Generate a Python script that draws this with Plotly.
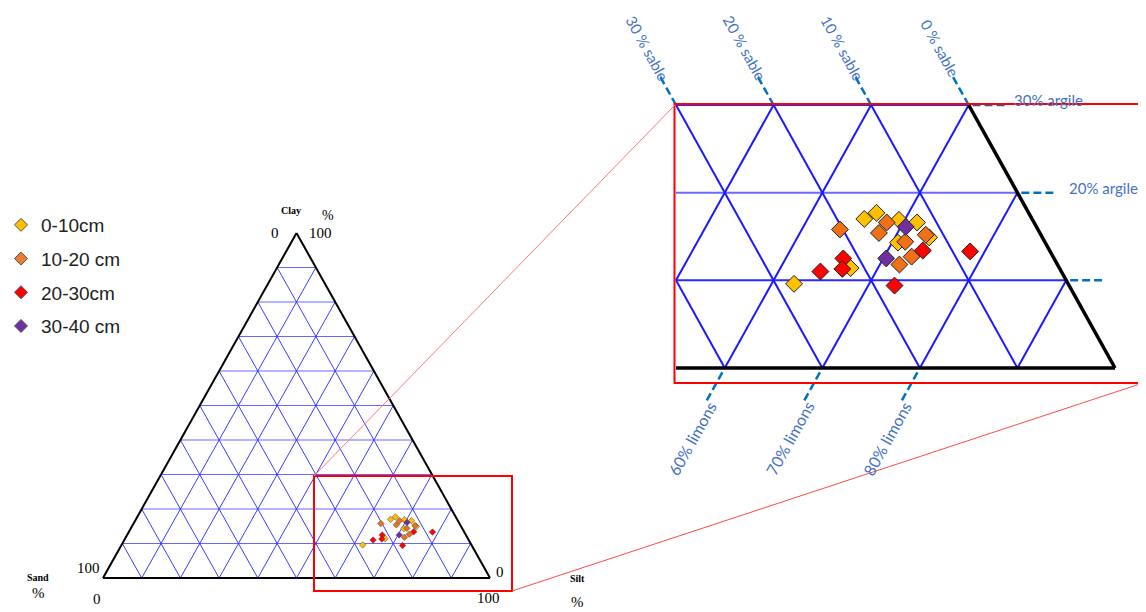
import plotly.graph_objects as go

W, H = 1146, 612          # browser window
OFF = 8                   # default page body margin
WF, HF = W - OFF, H - OFF # figure size so it fits the window

# ---------------- data (sand, silt, clay in %) ----------------
depth_labels = ["0-10cm", "10-20 cm", "20-30cm", "30-40 cm"]
point_colors = ["#FFC000", "#F07018", "#FF0000", "#7030A0"]
legend_colors = ["#FFC000", "#ED7D31", "#FF0000", "#7030A0"]

sand_0_10 = [17.2, 15.6, 13.7, 12.0, 15.1, 11.6, 21.4, 28.1]
silt_0_10 = [65.8, 66.7, 69.4, 71.4, 70.6, 73.5, 67.2, 62.3]
clay_0_10 = [17.0, 17.7, 16.9, 16.6, 14.3, 14.9, 11.4, 9.6]

sand_10_20 = [20.3, 15.1, 16.5, 14.3, 11.8, 14.5, 16.2]
silt_10_20 = [63.9, 68.3, 68.1, 71.3, 73.0, 72.8, 72.0]
clay_10_20 = [15.8, 16.6, 15.4, 14.4, 15.2, 12.7, 11.8]

sand_20_30 = [13.0, 21.6, 22.3, 24.7, 17.9, 8.2]
silt_20_30 = [73.6, 65.9, 66.4, 64.3, 72.7, 78.5]
clay_20_30 = [13.4, 12.5, 11.3, 11.0, 9.4, 13.3]

sand_30_40 = [13.4, 17.2]
silt_30_40 = [70.5, 70.3]
clay_30_40 = [16.1, 12.5]

groups = [
    (sand_0_10, silt_0_10, clay_0_10),
    (sand_10_20, silt_10_20, clay_10_20),
    (sand_20_30, silt_20_30, clay_20_30),
    (sand_30_40, silt_30_40, clay_30_40),
]

grid_ticks = [10, 20, 30, 40, 50, 60, 70, 80, 90]
sable_ticks = [30, 20, 10, 0]
argile_ticks = [30, 20, 10]
argile_labelled = [30, 20]
limons_ticks = [60, 70, 80]
zoom_left = 55      # ternary x (silt + clay/2) where the zoom is cut
zoom_top = 30       # clay % at top of zoom


def proj(silt, clay):
    """ternary -> cartesian: x = silt + clay/2, y = clay"""
    return [s + c / 2 for s, c in zip(silt, clay)], list(clay)


def P(px, py):
    """page pixel -> paper coords"""
    return (px - OFF) / WF, 1 - (py - OFF) / HF


def xrange_for(v0, p0, scale):
    p0 -= OFF
    return [v0 - p0 / scale, v0 + (WF - p0) / scale]


def yrange_for(v0, p0, scale):
    p0 -= OFF
    return [v0 - (HF - p0) / scale, v0 + p0 / scale]


# small triangle: x 0->103px, 100->490px ; clay 0->578px, 100->233px
sx_s = (490 - 103) / 100
sy_s = (578 - 233) / 100
x1_range = xrange_for(0, 103, sx_s)
y1_range = yrange_for(0, 578, sy_s)
# zoom: x 55->676px, 100->1115px ; clay 0->368px, 30->105px
sx_z = (1115 - 676) / 45
sy_z = (368 - 105) / 30
x2_range = xrange_for(55, 676, sx_z)
y2_range = yrange_for(0, 368, sy_z)

fig = go.Figure()


def add_segments(segs, color, width, axis, dash=None):
    xs, ys = [], []
    for (a, b) in segs:
        xs += [a[0], b[0], None]
        ys += [a[1], b[1], None]
    fig.add_trace(go.Scatter(
        x=xs, y=ys, mode="lines", hoverinfo="skip", showlegend=False,
        line=dict(color=color, width=width, dash=dash),
        xaxis="x" if axis == 1 else "x2", yaxis="y" if axis == 1 else "y2"))


# ---------------- small triangle grid ----------------
hseg, dseg = [], []
for k in grid_ticks:
    hseg.append(((k / 2, k), (100 - k / 2, k)))                       # clay = k
    dseg.append(((100 - k, 0), ((100 - k) / 2, 100 - k)))           # sand = k
    dseg.append(((k, 0), (k + (100 - k) / 2, 100 - k)))             # silt = k
add_segments(hseg, "rgba(95,95,255,0.95)", 1, 1)
add_segments(dseg, "rgba(50,50,255,0.95)", 1, 1)
add_segments([((0, 0), (100, 0)), ((100, 0), (50, 100)), ((50, 100), (0, 0))], "black", 2, 1)

# ---------------- zoom grid ----------------
zh, zh2, zd = [], [], []
for c in [10, 20, 30]:
    seg = ((zoom_left, c), (100 - c / 2, c))
    (zh2 if c == 20 else zh).append(seg)
for s in grid_ticks[:4]:
    cmax = min(zoom_top, 2 * (100 - s - zoom_left))
    if cmax > 0:
        zd.append(((100 - s, 0), (100 - s - cmax / 2, cmax)))
for t in [40] + grid_ticks[4:]:
    clo = max(0, 2 * (zoom_left - t))
    chi = min(zoom_top, 100 - t)
    if chi > clo:
        zd.append(((t + clo / 2, clo), (t + chi / 2, chi)))
add_segments(zh2, "#6a6aff", 2, 2)
add_segments(zh, "#2a2aff", 2, 2)
add_segments(zd, "#1a1aff", 2, 2)
add_segments([((zoom_left, 0), (100, 0)), ((100, 0), (100 - zoom_top / 2, zoom_top))], "black", 3.5, 2)

# dashed extensions
dash_segs = []
for s in sable_ticks:
    dash_segs.append(((100 - s - 15, 30), (100 - s - 16.75, 33.5)))
for c in argile_ticks:
    dash_segs.append(((100 - c / 2 + 0.4, c), (100 - c / 2 + 4.0, c)))
for t in limons_ticks:
    dash_segs.append(((t - 0.25, -0.5), (t - 2, -4)))
add_segments(dash_segs, "#0070C0", 2.5, 2, dash="8px,4px")

# ---------------- data points ----------------
for (sand, silt, clay), col, lab in zip(groups, point_colors, depth_labels):
    x, y = proj(silt, clay)
    fig.add_trace(go.Scatter(
        x=x, y=y, mode="markers", name=lab, showlegend=False,
        marker=dict(symbol="diamond", size=5, color=col, line=dict(color="#444", width=0.5)),
        xaxis="x", yaxis="y"))
    fig.add_trace(go.Scatter(
        x=x, y=y, mode="markers", name=lab, showlegend=False,
        marker=dict(symbol="diamond", size=13, color=col, line=dict(color="#222", width=1)),
        xaxis="x2", yaxis="y2"))

for i, (col, lab) in enumerate(zip(legend_colors, depth_labels)):
    fig.add_trace(go.Scatter(
        x=[None], y=[None], mode="markers", name=lab, legendgroup=f"g{i}",
        marker=dict(symbol="diamond", size=10, color=col, line=dict(color="#555", width=1)),
        xaxis="x", yaxis="y"))

# ---------------- annotations ----------------
ann = []
lab_font = dict(family="Lato, Open Sans, sans-serif", size=15, color="#4472C4")
for s in sable_ticks:
    ann.append(dict(x=100 - s - 18.25, y=36.5, xref="x2", yref="y2", text=f"{s} % sable",
                    textangle=61, showarrow=False, font=lab_font, xshift=3))
argile_xshift = [-3, 4]
for c, dx in zip(argile_labelled, argile_xshift):
    ann.append(dict(x=100 - c / 2 + 4.7, y=c, xref="x2", yref="y2", text=f"{c}% argile",
                    xanchor="left", showarrow=False, font=lab_font, yshift=5, xshift=dx))
for t in limons_ticks:
    ann.append(dict(x=t - 4, y=-8, xref="x2", yref="y2", text=f"{t}% limons",
                    textangle=-61, showarrow=False, font=dict(lab_font, size=16), xshift=6))

serif = "Liberation Serif, Times New Roman, serif"
small_labels = [
    ("Clay", 291, 210, 10, True), ("%", 328, 215, 14, False),
    ("0", 275, 233, 15, False), ("100", 320, 233, 15, False),
    ("Sand", 38, 577, 10, True), ("%", 38, 593, 15, False),
    ("100", 88, 568, 15, False), ("0", 97, 599, 15, False),
    ("Silt", 577, 578, 10, True), ("%", 577, 602, 15, False),
    ("0", 500, 572, 15, False), ("100", 488, 598, 15, False),
]
for txt, px, py, sz, bold in small_labels:
    x, y = P(px, py)
    ann.append(dict(x=x, y=y, xref="paper", yref="paper", text=f"<b>{txt}</b>" if bold else txt,
                    showarrow=False, font=dict(family=serif, size=sz, color="black"),
                    xanchor="center", yanchor="middle"))

# ---------------- zoom frames ----------------
shapes = []


def rect(x0, y0, x1, y1, color, width):
    a = P(x0, y0)
    b = P(x1, y1)
    shapes.append(dict(type="rect", xref="paper", yref="paper", x0=a[0], y0=b[1], x1=b[0], y1=a[1],
                       line=dict(color=color, width=width), fillcolor="rgba(0,0,0,0)"))


def line(x0, y0, x1, y1, color, width):
    a = P(x0, y0)
    b = P(x1, y1)
    shapes.append(dict(type="line", xref="paper", yref="paper", x0=a[0], y0=a[1], x1=b[0], y1=b[1],
                       line=dict(color=color, width=width)))


rect(314, 476, 512, 591, "#FF0000", 2)
rect(674.5, 104, 1152, 383, "#FF0000", 2)
line(314, 476, 675, 105, "#FF7a7a", 1)
line(512, 591, 1146, 382, "#FF4a4a", 1)

lx, ly = P(1, 206)
fig.update_layout(
    width=WF, height=HF,
    margin=dict(l=0, r=0, t=0, b=0, autoexpand=False),
    paper_bgcolor="white", plot_bgcolor="white",
    xaxis=dict(domain=[0, 1], range=x1_range, visible=False, fixedrange=True),
    yaxis=dict(domain=[0, 1], range=y1_range, visible=False, fixedrange=True),
    xaxis2=dict(domain=[0, 1], range=x2_range, visible=False, fixedrange=True, overlaying="x"),
    yaxis2=dict(domain=[0, 1], range=y2_range, visible=False, fixedrange=True, overlaying="y"),
    showlegend=True,
    legend=dict(x=lx, y=ly, xanchor="left", yanchor="top", bgcolor="rgba(0,0,0,0)",
                font=dict(family="Liberation Sans, Arial, sans-serif", size=19, color="#222"),
                tracegroupgap=6, itemclick=False, itemdoubleclick=False),
    annotations=ann,
    shapes=shapes,
)

fig.write_html("out.html")
